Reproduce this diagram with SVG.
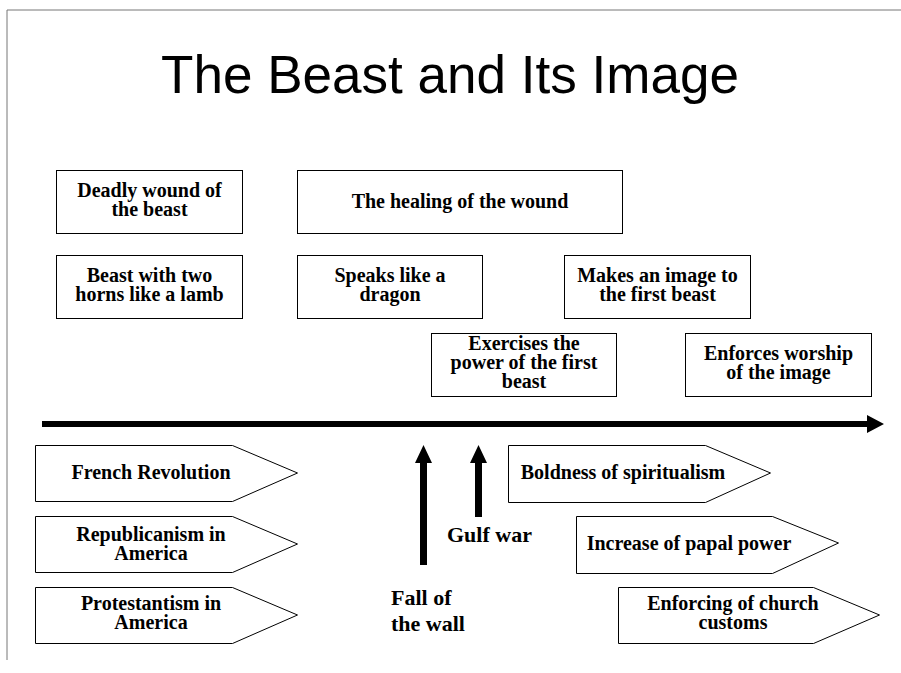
<svg xmlns="http://www.w3.org/2000/svg" width="901" height="673" viewBox="0 0 901 673">
<style>
  .box { fill: #fff; stroke: #000; stroke-width: 1; }
  .lbl { font-family: "Liberation Serif", "Times New Roman", serif; font-weight: bold; font-size: 20px; fill: #000; text-anchor: middle; }
  .mark { font-family: "Liberation Serif", "Times New Roman", serif; font-weight: bold; font-size: 22px; fill: #000; }
  .title { font-family: "Liberation Sans", Arial, sans-serif; font-size: 54px; fill: #000; text-anchor: middle; }
</style>
<rect width="901" height="673" fill="#fff"/>
<!-- slide frame -->
<path d="M901,10 H7 V660" fill="none" stroke="#777" stroke-width="1"/>
<text class="title" x="450" y="93" textLength="578" lengthAdjust="spacingAndGlyphs">The Beast and Its Image</text>

<!-- upper boxes -->
<g id="deadly-wound">
  <rect class="box" x="56.500" y="170.500" width="186" height="63"/>
  <text class="lbl" x="149.500" y="197">Deadly wound of<tspan x="149.500" dy="19">the beast</tspan></text>
</g>
<g id="healing">
  <rect class="box" x="297.500" y="170.500" width="325" height="63"/>
  <text class="lbl" x="460" y="208">The healing of the wound</text>
</g>
<g id="two-horns">
  <rect class="box" x="56.500" y="255.500" width="186" height="63"/>
  <text class="lbl" x="149.500" y="282">Beast with two<tspan x="149.500" dy="19">horns like a lamb</tspan></text>
</g>
<g id="dragon">
  <rect class="box" x="297.500" y="255.500" width="185" height="63"/>
  <text class="lbl" x="390" y="282">Speaks like a<tspan x="390" dy="19">dragon</tspan></text>
</g>
<g id="makes-image">
  <rect class="box" x="564.500" y="255.500" width="186" height="63"/>
  <text class="lbl" x="657.500" y="282">Makes an image to<tspan x="657.500" dy="19">the first beast</tspan></text>
</g>
<g id="exercises">
  <rect class="box" x="431.500" y="333.500" width="185" height="63"/>
  <text class="lbl" x="524" y="350">Exercises the<tspan x="524" dy="19">power of the first</tspan><tspan x="524" dy="19">beast</tspan></text>
</g>
<g id="enforces-worship">
  <rect class="box" x="685.500" y="333.500" width="186" height="63"/>
  <text class="lbl" x="778.500" y="360">Enforces worship<tspan x="778.500" dy="19">of the image</tspan></text>
</g>

<!-- lower pointers -->
<g id="french-revolution">
  <path class="box" d="M35.500,445.500 H232.500 L297.500,473 L232.500,501.500 H35.500 Z"/>
  <text class="lbl" x="151" y="479">French Revolution</text>
</g>
<g id="republicanism">
  <path class="box" d="M35.500,516.500 H232.500 L297.500,544 L232.500,572.500 H35.500 Z"/>
  <text class="lbl" x="151" y="541">Republicanism in<tspan x="151" dy="19">America</tspan></text>
</g>
<g id="protestantism">
  <path class="box" d="M35.500,587.500 H232.500 L297.500,615 L232.500,643.500 H35.500 Z"/>
  <text class="lbl" x="151" y="610">Protestantism in<tspan x="151" dy="19">America</tspan></text>
</g>
<g id="spiritualism">
  <path class="box" d="M508.500,445.500 H705.500 L770.500,473 L705.500,502.500 H508.500 Z"/>
  <text class="lbl" x="623" y="479">Boldness of spiritualism</text>
</g>
<g id="papal-power">
  <path class="box" d="M576.500,516.500 H772.500 L838.500,543 L772.500,573.500 H576.500 Z"/>
  <text class="lbl" x="689" y="550">Increase of papal power</text>
</g>
<g id="church-customs">
  <path class="box" d="M618.500,587.500 H813.500 L879.500,615 L813.500,643.500 H618.500 Z"/>
  <text class="lbl" x="733" y="610">Enforcing of church<tspan x="733" dy="19">customs</tspan></text>
</g>

<!-- timeline and event markers -->
<g id="connectors">
  <path d="M42,421 H867 V415 L884,424 L867,433 V427 H42 Z" fill="#000"/>
  <path d="M420,565 V463 H415 L423.500,445 L432,463 H427 V565 Z" fill="#000"/>
  <path d="M475,517 V463 H470 L478.500,445 L487,463 H482 V517 Z" fill="#000"/>
</g>
<g id="gulf-war">
  <text class="mark" x="447" y="542">Gulf war</text>
</g>
<g id="fall-of-wall">
  <text class="mark" x="391" y="605">Fall of<tspan x="391" dy="26">the wall</tspan></text>
</g>
</svg>
